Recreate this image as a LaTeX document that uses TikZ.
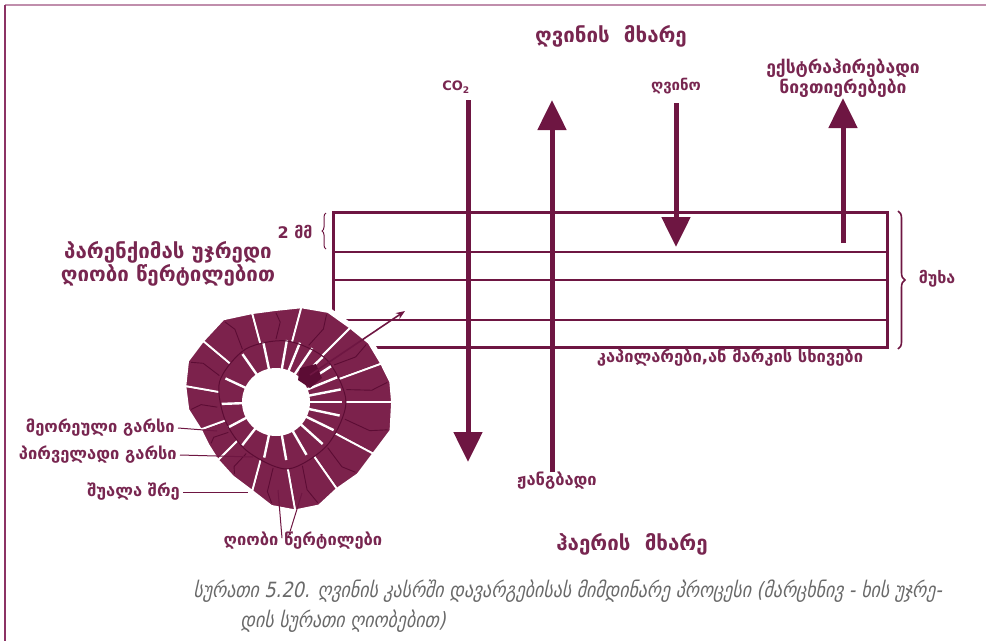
\documentclass[tikz,border=0pt]{standalone}
\usepackage{fontspec}
\newfontfamily\geo{DejaVu Sans}
\newfontfamily\capfont{DejaVu Sans}[FakeSlant=0.22,FakeStretch=0.85]
\usetikzlibrary{arrows.meta,decorations.pathreplacing}
\definecolor{wine}{RGB}{110,22,66}
\definecolor{cellc}{RGB}{124,34,76}
\definecolor{celld}{RGB}{92,12,52}
\definecolor{labelc}{RGB}{120,38,80}
\definecolor{capc}{RGB}{105,105,105}
\definecolor{frameL}{RGB}{140,50,100}
\definecolor{frameT}{RGB}{192,142,172}
\newcommand{\lblsize}[1]{\geo\bfseries\fontsize{#1}{#1}\selectfont}
\begin{document}
\begin{tikzpicture}[x=1pt,y=-1pt,
  lbl/.style={font=\lblsize{16.5}, text=labelc, inner sep=0pt, align=center},
  biglbl/.style={lbl, font=\lblsize{20.5}},
  bigarrow/.style={draw=wine, line width=5pt, -{Triangle[width=28pt,length=30pt]}},
  lead/.style={draw=wine, line width=1pt},
  sheet/.style={draw=wine, line width=1.6pt},
  wallbox/.style={draw=wine, line width=3pt},
  capt/.style={anchor=base west, text=capc, font=\capfont\fontsize{21}{24}\selectfont, inner sep=0pt},
]
\useasboundingbox (0,0) rectangle (986,641);

% page frame
\draw[frameT, line width=2pt] (5,5) -- (986,5);
\draw[frameL, line width=1.5pt] (5,5) -- (5,641);

% oak stave with its layers
\coordinate (oakNW) at (333,212);
\coordinate (oakSE) at (887,347);
\draw[wallbox] (oakNW) rectangle (oakSE);
\foreach \yy in {252,280,320} \draw[sheet] (333,\yy) -- (887,\yy);

% braces
\draw[wine, line width=1pt, decorate, decoration={brace,amplitude=4pt}] (326,249) -- (326,213);
\draw[wine, line width=1.6pt, decorate, decoration={brace,amplitude=7pt}] (898,211) -- (898,349);

% labels
\node[biglbl] (wside) at (611,36) {ღვინის\ \ მხარე};
\node[lbl, font=\lblsize{13}] (co2) at (456,87) {CO\textsubscript{2}};
\node[lbl, font=\lblsize{15}] (wine) at (676,86) {ღვინო};
\node[lbl, font=\lblsize{17.5}] (extr) at (843,78) {ექსტრაჰირებადი\\ნივთიერებები};
\node[lbl, font=\lblsize{16}] (mm) at (295,232) {2 მმ};
\node[biglbl] (paren) at (168,264) {პარენქიმას უჯრედი\\ღიობი წერტილებით};
\node[lbl, font=\lblsize{16}] (oak) at (937,279) {მუხა};
\node[lbl] (capil) at (730,358) {კაპილარები,ან მარკის სხივები};
\node[lbl, anchor=east] (sec) at (175,428) {მეორეული გარსი};
\node[lbl, anchor=east] (prim) at (177,455) {პირველადი გარსი};
\node[lbl, anchor=east] (midl) at (180,492) {შუალა შრე};
\node[lbl] (pits) at (303,541) {ღიობი წერტილები};
\node[lbl] (oxy) at (557,481) {ჟანგბადი};
\node[biglbl] (aside) at (632,544) {ჰაერის\ \ მხარე};

% exchange arrows
\coordinate (co2a) at (468,100); \coordinate (co2b) at (468,462);
\coordinate (oxa) at (552,472);  \coordinate (oxb) at (552,100);
\coordinate (wa) at (676,103);   \coordinate (wb) at (676,247);
\coordinate (ea) at (843,243);   \coordinate (eb) at (843,98);
\draw[bigarrow] (co2a) -- (co2b);
\draw[bigarrow] (oxa) -- (oxb);
\draw[bigarrow] (wa) -- (wb);
\draw[bigarrow] (ea) -- (eb);

% wood cell in cross-section
\begin{scope}[shift={(276,402)}]
  \def\outercells{0/28/116/118/110/70/68, 28/55/110/109/106/68/66,
    55/80/106/112/110/66/68, 80/105/110/104/92/68/60,
    105/135/92/86/82/60/55, 135/160/82/80/80/55/54,
    160/190/80/88/92/54/60, 190/220/92/97/95/60/61,
    220/255/95/98/92/61/60, 255/285/92/92/98/60/62,
    285/315/98/104/105/62/65, 315/340/105/110/112/65/69,
    340/360/112/116/116/69/70}
  % white halo
  \foreach \ta/\tb/\ra/\rc/\rb/\ia/\ib in \outercells
    \filldraw[white, line width=9pt, line join=round]
      (\ta:\ia) -- (\ta:\ra) -- ({(\ta+\tb)/2}:\rc) -- (\tb:\rb) -- (\tb:\ib) -- cycle;
  % secondary wall cells
  \foreach \ta/\tb/\ra/\rc/\rb/\ia/\ib in \outercells {
    \filldraw[fill=cellc, draw=white, line width=1.8pt, line join=round]
      (\ta:{\ia-3}) -- (\ta:\ra) -- ({(\ta+\tb)/2}:\rc) -- (\tb:\rb) -- (\tb:{\ib-3}) -- cycle;
    \draw[celld, line width=0.9pt]
      ({(\ta+\tb)/2}:{(\ia+\ib)/2+2}) -- ({(\ta+\tb)/2+3}:{(\ia+\rc)/2+4}) -- ({(\ta+\tb)/2}:{\rc-3});
  }
  % primary wall bars, solid ring cut by narrow radial gaps
  \fill[cellc] plot[smooth cycle] coordinates
    {(0:70) (40:67) (80:68) (120:57) (160:54) (200:60) (240:61) (280:62) (320:66)};
  \fill[white] (0,0) circle[radius=34];
  \foreach \tg in {292,304,316,327,338,349,0,12,26,42,60,80,102,128,152,178,205,235,258,280}
    \draw[white, line width=2.4pt] (\tg:33) -- (\tg:{60+6*cos(\tg+20)});
  % middle lamella
  \draw[celld, line width=1pt] plot[smooth cycle] coordinates
    {(0:70) (40:67) (80:68) (120:57) (160:54) (200:60) (240:61) (280:62) (320:66)};
\end{scope}
\fill[celld] (300,368) -- (316,364) -- (322,378) -- (310,388) -- (298,380) -- cycle;

% pit channel
\coordinate (pitA) at (310,375);
\coordinate (pitB) at (405,311);
\draw[wine, line width=1.6pt, -{Stealth[length=9pt,width=7pt]}] (pitA) -- (pitB);

% leader lines
\coordinate (secT) at (217,431);
\coordinate (primT) at (253,457);
\coordinate (midlT) at (248,492);
\coordinate (pitL) at (278,490);
\coordinate (pitR) at (302,493);
\draw[lead] ([xshift=3pt]sec.east) -- (secT);
\draw[lead] ([xshift=3pt]prim.east) -- (primT);
\draw[lead] ([xshift=3pt]midl.east) -- (midlT);
\draw[lead] ([xshift=-21pt,yshift=-6pt]pits.north) -- (pitL);
\draw[lead] ([xshift=-15pt,yshift=-6pt]pits.north) -- (pitR);

% caption
\node[capt] (cap1) at (193,597) {სურათი 5.20. ღვინის კასრში დავარგებისას მიმდინარე პროცესი (მარცხნივ - ხის უჯრე-};
\node[capt] (cap2) at (240,627) {დის სურათი ღიობებით)};
\end{tikzpicture}
\end{document}
